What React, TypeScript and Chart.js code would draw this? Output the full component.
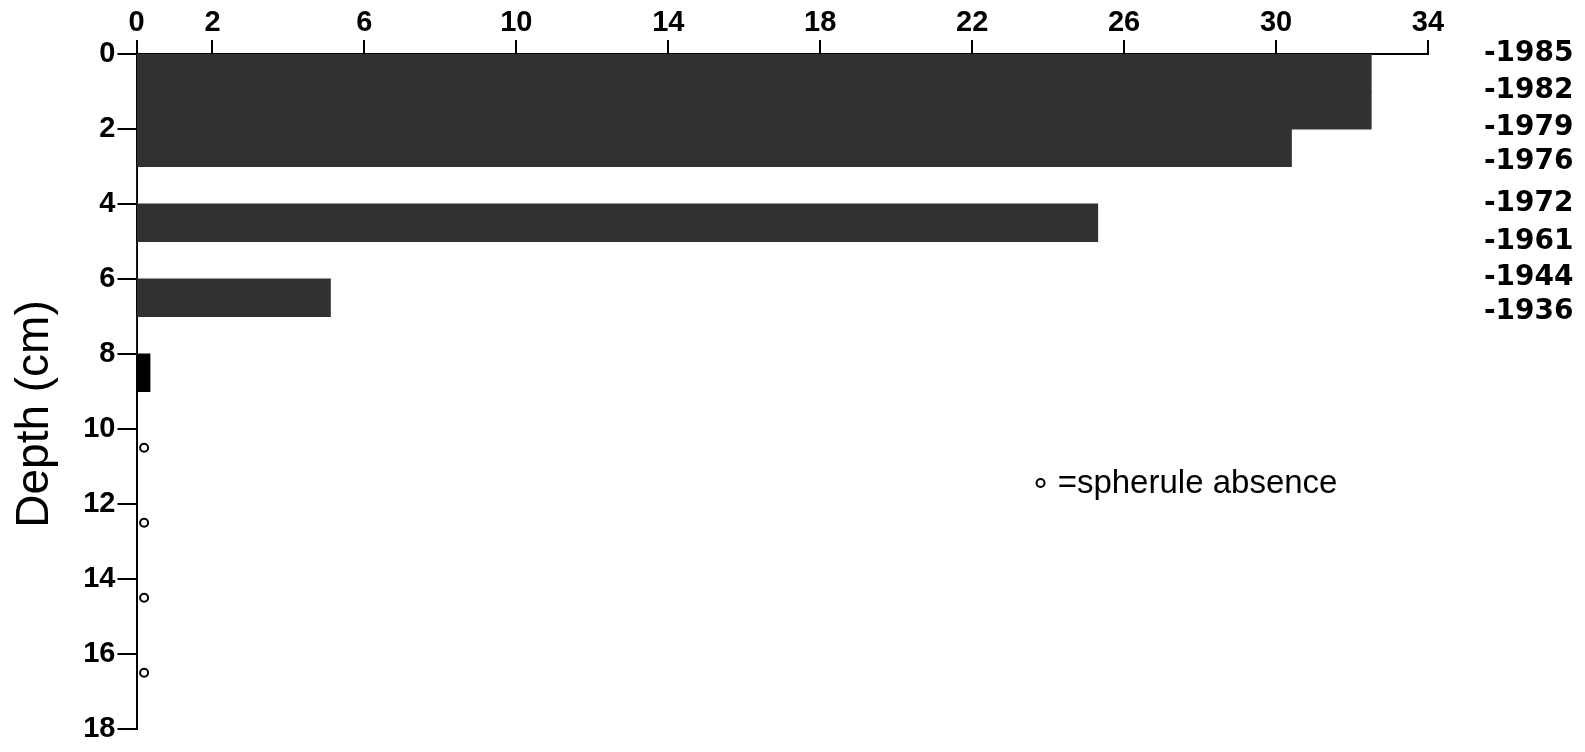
import React, { useEffect, useRef } from 'react';
import { Chart, registerables } from 'chart.js';

Chart.register(...registerables);

// ---- data ----
const depthMidpoints = [0.5, 1.5, 2.5, 3.5, 4.5, 5.5, 6.5, 7.5, 8.5];
const spheruleCounts = [32.5, 32.5, 30.4, 0, 25.3, 0, 5.1, 0, 0.35];
const absenceDepths = [10.5, 12.5, 14.5, 16.5];
const absenceValue = 0.2;
const xTickValues = [0, 2, 6, 10, 14, 18, 22, 26, 30, 34];
const yearLabels = ['-1985', '-1982', '-1979', '-1976', '-1972', '-1961', '-1944', '-1936'];
const yearDepths = [0, 0.98, 1.97, 2.87, 4.0, 5.0, 5.97, 6.86];
const axisTitle = 'Depth (cm)';
const legendText = '=spherule absence';

// ---- placement of annotations (in data units) ----
const legendAt = { x: 23.8, y: 11.44, textX: 24.25 };
const titleDepth = 9.6;

const SANS = '"Liberation Sans", Arial, Helvetica, sans-serif';

const annotationPlugin = {
  id: 'annotations',
  afterDraw(chart: any) {
    const { ctx, chartArea } = chart;
    const x = chart.scales.x;
    const y = chart.scales.y;
    // axis title
    ctx.save();
    ctx.translate(chartArea.left - 101, y.getPixelForValue(titleDepth));
    ctx.rotate(-Math.PI / 2);
    ctx.font = `46px ${SANS}`;
    ctx.fillStyle = '#000';
    ctx.textAlign = 'center';
    ctx.textBaseline = 'middle';
    ctx.fillText(axisTitle, 0, 0);
    ctx.restore();
    // legend
    ctx.save();
    const cx = x.getPixelForValue(legendAt.x);
    const cy = y.getPixelForValue(legendAt.y);
    ctx.beginPath();
    ctx.arc(cx, cy, 4, 0, Math.PI * 2);
    ctx.fillStyle = '#fff';
    ctx.fill();
    ctx.lineWidth = 2;
    ctx.strokeStyle = '#000';
    ctx.stroke();
    ctx.font = `33px ${SANS}`;
    ctx.fillStyle = '#000';
    ctx.textAlign = 'left';
    ctx.textBaseline = 'alphabetic';
    ctx.fillText(legendText, x.getPixelForValue(legendAt.textX), cy + 10);
    ctx.restore();
  },
};

export default function App() {
  const ref = useRef<HTMLCanvasElement | null>(null);

  useEffect(() => {
    if (!ref.current) return;
    const chart = new Chart(ref.current, {
      type: 'bar',
      data: {
        datasets: [
          {
            type: 'bar',
            data: depthMidpoints.map((d, i) => ({ x: spheruleCounts[i], y: d })),
            backgroundColor: (c: any) => (depthMidpoints[c.dataIndex] > 8 ? '#000000' : '#313131'),
            borderWidth: 0,
            barPercentage: 1,
            categoryPercentage: 1,
            inflateAmount: 0.6,
            xAxisID: 'x',
            yAxisID: 'y',
          } as any,
          {
            type: 'scatter',
            data: absenceDepths.map((d) => ({ x: absenceValue, y: d })),
            pointStyle: 'circle',
            pointRadius: 4,
            pointBorderWidth: 2,
            pointBorderColor: '#000',
            pointBackgroundColor: '#fff',
            showLine: false,
            xAxisID: 'x',
            yAxisID: 'y',
          } as any,
        ],
      },
      options: {
        indexAxis: 'y',
        animation: false,
        responsive: true,
        maintainAspectRatio: false,
        layout: { padding: { top: 0, left: 0, right: 0, bottom: 15 } },
        plugins: { legend: { display: false }, tooltip: { enabled: false } },
        scales: {
          x: {
            type: 'linear',
            position: 'top',
            min: 0,
            max: 34,
            offset: false,
            afterBuildTicks: (s: any) => {
              s.ticks = xTickValues.map((v) => ({ value: v }));
            },
            afterFit: (s: any) => {
              s.height = 46;
              s.paddingLeft = 0;
              s.paddingRight = 0;
            },
            ticks: {
              autoSkip: false,
              maxRotation: 0,
              padding: 0,
              color: '#000',
              font: { family: SANS, size: 29, weight: 'bold' },
            },
            grid: {
              offset: false,
              drawOnChartArea: false,
              drawTicks: true,
              tickLength: 14,
              color: '#000',
              lineWidth: 2,
            },
            border: { display: true, color: '#000', width: 2 },
          },
          y: {
            type: 'linear',
            position: 'left',
            min: 0,
            max: 18,
            reverse: true,
            offset: false,
            afterFit: (s: any) => {
              s.width = 128.5;
              s.paddingTop = 0;
              s.paddingBottom = 0;
            },
            ticks: {
              stepSize: 2,
              autoSkip: false,
              padding: 2,
              color: '#000',
              font: { family: SANS, size: 29, weight: 'bold' },
            },
            grid: {
              offset: false,
              drawOnChartArea: false,
              drawTicks: true,
              tickLength: 19,
              color: '#000',
              lineWidth: 2,
            },
            border: { display: true, color: '#000', width: 2 },
          },
          years: {
            type: 'linear',
            position: 'right',
            min: 0,
            max: 18,
            reverse: true,
            offset: false,
            afterBuildTicks: (s: any) => {
              s.ticks = yearDepths.map((v) => ({ value: v }));
            },
            afterFit: (s: any) => {
              s.width = 149;
              s.paddingTop = 0;
              s.paddingBottom = 0;
            },
            ticks: {
              autoSkip: false,
              padding: 48,
              color: '#000',
              font: { family: '"DejaVu Sans", Arial, sans-serif', size: 28, weight: 'bold' },
              callback: (_v: any, i: number) => yearLabels[i],
            },
            grid: { display: false, offset: false },
            border: { display: false },
          },
        },
      } as any,
      plugins: [annotationPlugin],
    });
    return () => chart.destroy();
  }, []);

  return (
    <div style={{ position: 'relative', width: '1569px', height: '736px' }}>
      <canvas ref={ref} />
    </div>
  );
}
